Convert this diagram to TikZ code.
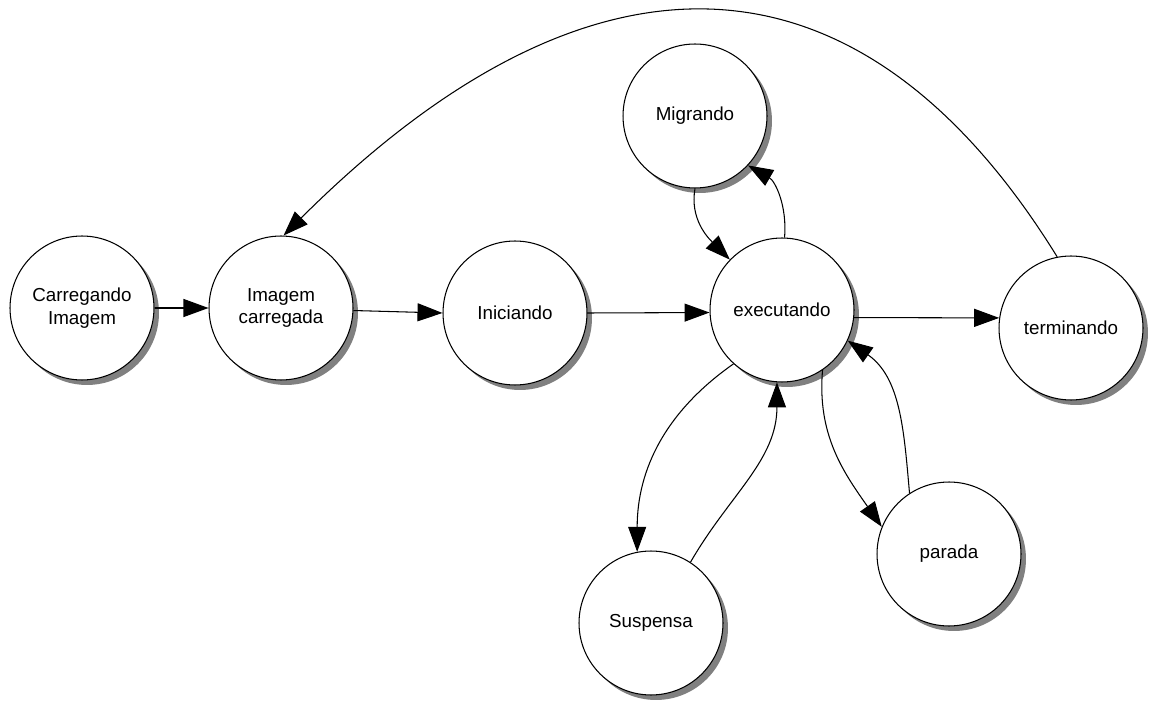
\documentclass[tikz,border=0pt]{standalone}
\usepackage{fontspec}
\setmainfont{Liberation Sans}
\usetikzlibrary{arrows.meta,shadows}
\begin{document}
\begin{tikzpicture}[x=0.02cm,y=-0.02cm,
  state/.style={circle,draw=black,line width=0.6pt,fill=white,
    minimum size=2.88cm,inner sep=0pt,align=center,
    font=\fontsize{10.7}{13}\selectfont,
    drop shadow={shadow xshift=0.1cm,shadow yshift=-0.1cm,fill=black!50,opacity=1}},
  link/.style={line width=0.6pt,-{Triangle[length=0.5cm,width=0.36cm]}}]
\useasboundingbox (0,0) rectangle (1153,702);

% states
\node[state] (car)  at (82,308)   {Carregando\\Imagem};
\node[state] (imc)  at (281,308)  {Imagem\\carregada};
\node[state] (ini)  at (515,313)  {Iniciando};
\node[state] (exe)  at (782,310)  {executando};
\node[state] (mig)  at (695,116)  {Migrando};
\node[state] (ter)  at (1071,328) {terminando};
\node[state] (sus)  at (651,623)  {Suspensa};
\node[state] (par)  at (949,554)  {parada};

% main line
\draw[link] (car.east) -- (imc.west);
\draw[link] (imc.-2) -- (ini.west);
\draw[link] (ini.east) -- (exe.-178);
\draw[link] (exe.-6) -- (ter.172);

% restart arc
\draw[link] (ter.101) .. controls (857,-67) and (587,-67) .. (imc.88);

% migration loop
\draw[link] (exe.88) to[out=85,in=-30] (mig.-43);
\draw[link] (mig.-90) to[out=-100,in=135] (exe.136);

% suspension loop
\draw[link] (exe.-132) to[out=-145,in=90] (sus.101);
\draw[link] (sus.57) to[out=60,in=-90] (exe.-94);

% stop loop
\draw[link] (exe.-56) to[out=-95,in=125] (par.158);
\draw[link] (par.123) to[out=95,in=-35] (exe.-25);
\end{tikzpicture}
\end{document}
